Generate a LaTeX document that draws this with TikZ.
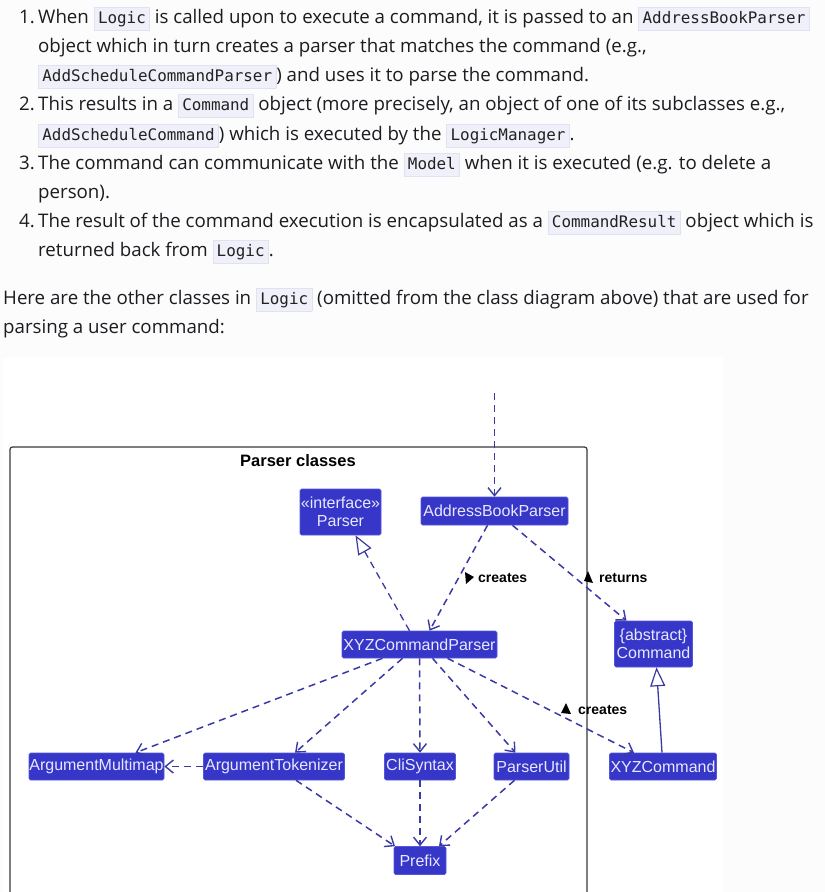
\documentclass[tikz,border=0pt]{standalone}
\usepackage{fontspec}
\setmainfont{Open Sans}
\setmonofont{DejaVu Sans Mono}
\newfontfamily\umlfont{Liberation Sans}
\usetikzlibrary{arrows.meta,calc}
\definecolor{pagebg}{HTML}{FCFCFC}
\definecolor{textcol}{HTML}{1A1C20}
\definecolor{codebg}{HTML}{EFF0FA}
\definecolor{codebd}{HTML}{E0E2F0}
\definecolor{codetext}{HTML}{222222}
\definecolor{nodefill}{HTML}{3636C8}
\definecolor{nodebd}{HTML}{5656D8}
\definecolor{nodetext}{HTML}{E8E8FF}
\definecolor{edgecol}{HTML}{3A3AA6}
\definecolor{framecol}{HTML}{3A3A3A}
\newcommand\cd[1]{\begingroup\setlength{\fboxsep}{3.5pt}\setlength{\fboxrule}{0.7pt}\fcolorbox{codebd}{codebg}{\color{codetext}\ttfamily\fontsize{15.9}{18}\selectfont\rule[-3.5pt]{0pt}{14.5pt}#1}\endgroup}
\tikzset{
  body/.style={inner sep=0pt, text=textcol, font=\fontsize{18.7}{22}\selectfont, anchor=base west},
  num/.style={inner sep=0pt, text=textcol, font=\fontsize{18.7}{22}\selectfont, anchor=base east},
  cls/.style={fill=nodefill, draw=nodebd, line width=0.6pt, rounded corners=1.5pt, text=nodetext,
    font=\umlfont\fontsize{16}{18}\selectfont, inner sep=0pt, align=center},
  dep/.style={draw=edgecol, line width=1.5pt, dash pattern=on 7pt off 5pt,
    -{Straight Barb[length=8pt,width=13pt,line width=1.4pt]}},
  real/.style={draw=edgecol, line width=1.3pt, dash pattern=on 7pt off 5pt,
    -{Triangle[open,length=19pt,width=15pt,fill=white,line width=1.2pt]}},
  gen/.style={draw=edgecol, line width=1.3pt,
    -{Triangle[open,length=19pt,width=15pt,fill=white,line width=1.2pt]}},
  lbl/.style={font=\umlfont\bfseries\fontsize{14}{16}\selectfont, text=black, inner sep=0pt, anchor=west},
}
\begin{document}
\begin{tikzpicture}[x=1pt,y=-1pt]
\path[use as bounding box, clip] (0,0) rectangle (825,892);
\fill[pagebg] (0,0) rectangle (825,892);
\fill[white] (2,358) rectangle (723,892);

% ---- text ----
\node[num] (n1) at (35,23) {1.};
\node[body] (t1) at (38,23) {When \cd{Logic} is called upon to execute a command, it is passed to an \cd{AddressBookParser}};
\node[body] (t2) at (38,52) {object which in turn creates a parser that matches the command (e.g.,};
\node[body] (t3) at (38,81) {\cd{AddScheduleCommandParser}) and uses it to parse the command.};
\node[num] (n2) at (35,110) {2.};
\node[body] (t4) at (38,110) {This results in a \cd{Command} object (more precisely, an object of one of its subclasses e.g.,};
\node[body] (t5) at (38,140) {\cd{AddScheduleCommand}) which is executed by the \cd{LogicManager}.};
\node[num] (n3) at (35,169) {3.};
\node[body] (t6) at (38,169) {The command can communicate with the \cd{Model} when it is executed (e.g. to delete a};
\node[body] (t7) at (38,198) {person).};
\node[num] (n4) at (35,227) {4.};
\node[body] (t8) at (38,227) {The result of the command execution is encapsulated as a \cd{CommandResult} object which is};
\node[body] (t9) at (38,256) {returned back from \cd{Logic}.};
\node[body] (t10) at (3,304) {Here are the other classes in \cd{Logic} (omitted from the class diagram above) that are used for};
\node[body] (t11) at (3,333) {parsing a user command:};

% ---- package frame ----
\draw[framecol, line width=1.2pt, rounded corners=2.5pt] (10,905) -- (10,447) -- (587,447) -- (587,905);
\node[font=\umlfont\bfseries\fontsize{16.5}{18}\selectfont, inner sep=0pt] (ptitle) at (298,461) {Parser classes};

% ---- classes ----
\node[cls, minimum width=81pt, minimum height=46pt] (parser) at (340.5,512) {«interface»\\Parser};
\node[cls, minimum width=147pt, minimum height=28pt] (abp) at (494.5,511) {AddressBookParser};
\node[cls, minimum width=155pt, minimum height=27pt] (xcp) at (419.5,644.5) {XYZCommandParser};
\node[cls, minimum width=78pt, minimum height=46pt] (cmd) at (653.5,644) {\{abstract\}\\Command};
\node[cls, minimum width=135pt, minimum height=27pt] (am) at (96.5,766.5) {ArgumentMultimap};
\node[cls, minimum width=141pt, minimum height=27pt] (at) at (274,766.5) {ArgumentTokenizer};
\node[cls, minimum width=71pt, minimum height=27pt] (cli) at (420,766.5) {CliSyntax};
\node[cls, minimum width=75pt, minimum height=27pt] (pu) at (531.5,766.5) {ParserUtil};
\node[cls, minimum width=107pt, minimum height=27pt] (xc) at (663,766.5) {XYZCommand};
\node[cls, minimum width=52pt, minimum height=28pt] (prefix) at (420,860.5) {Prefix};

% ---- connectors ----
\coordinate (in) at (494.5,393);
\draw[dep] (in) -- (abp.north);
\draw[real] ($(xcp.north)+(-10,0)$) -- ($(parser.south)+(15,0)$);
\draw[dep] ($(abp.south)+(-7,0)$) -- ($(xcp.north)+(10,0)$);
\draw[dep] ($(abp.south)+(18,0)$) -- ($(cmd.north)+(-27,0)$);
\draw[dep] ($(xcp.south)+(-37,0)$) -- ($(am.north)+(39,0)$);
\draw[dep] ($(xcp.south)+(-17,0)$) -- ($(at.north)+(21,0)$);
\draw[dep] (xcp.south) -- (cli.north);
\draw[dep] ($(xcp.south)+(13,0)$) -- ($(pu.north)+(-16,0)$);
\draw[dep] ($(xcp.south)+(28,0)$) -- ($(xc.north)+(-29,0)$);
\draw[dep] (at.west) -- (am.east);
\draw[dep] ($(at.south)+(22,0)$) -- ($(prefix.north)+(-25,0)$);
\draw[dep] (cli.south) -- (prefix.north);
\draw[dep] ($(pu.south)+(-17,0)$) -- ($(prefix.north)+(19,0)$);
\draw[gen] ($(xc.north)+(-1,0)$) -- ($(cmd.south)+(3,0)$);

% ---- labels ----
\node[lbl] (cr1) at (478,578) {creates};
\fill[black] ($(cr1.west)+(-13,-6)$) -- ($(cr1.west)+(-4,-1)$) -- ($(cr1.west)+(-12,6)$) -- cycle;
\node[lbl] (ret) at (599,578) {returns};
\fill[black] ($(ret.west)+(-11,-7)$) -- ($(ret.west)+(-6,5)$) -- ($(ret.west)+(-15,3)$) -- cycle;
\node[lbl] (cr2) at (578,710) {creates};
\fill[black] ($(cr2.west)+(-12,-7)$) -- ($(cr2.west)+(-7,4)$) -- ($(cr2.west)+(-17,3)$) -- cycle;
\end{tikzpicture}
\end{document}
